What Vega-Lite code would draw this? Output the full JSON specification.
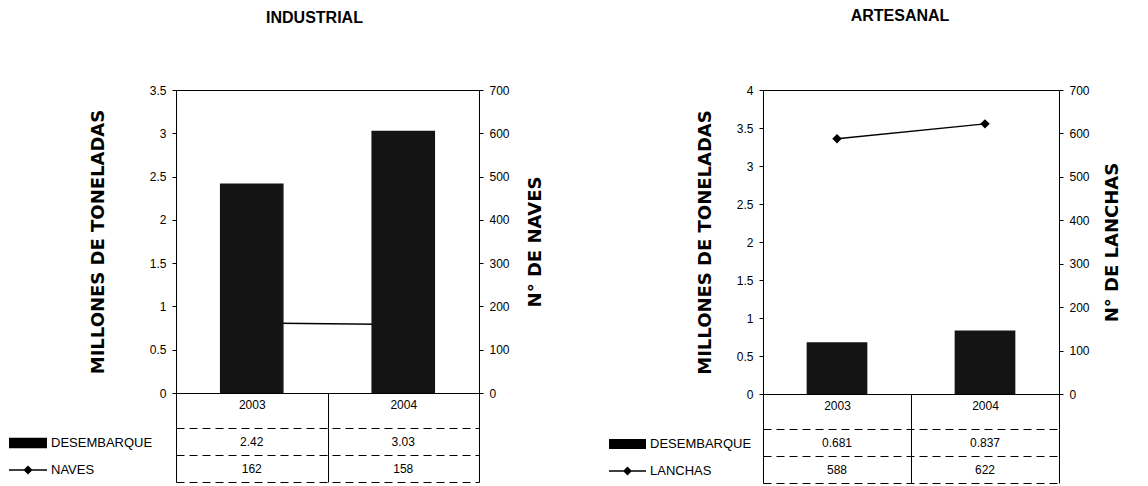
{
  "$schema": "https://vega.github.io/schema/vega-lite/v6.json",
  "background": "white",
  "padding": {"left": 1, "top": 7, "right": 5, "bottom": 2},
  "spacing": 56,
  "datasets": {
    "ind": [
      {"year": "2003", "DESEMBARQUE": 2.42, "NAVES": 162},
      {"year": "2004", "DESEMBARQUE": 3.03, "NAVES": 158}
    ],
    "art": [
      {"year": "2003", "DESEMBARQUE": 0.681, "LANCHAS": 588},
      {"year": "2004", "DESEMBARQUE": 0.837, "LANCHAS": 622}
    ]
  },
  "hconcat": [
    {
      "bounds": "flush",
      "spacing": 35,
      "resolve": {"scale": {"shape": "independent"}, "legend": {"shape": "independent"}},
      "vconcat": [
        {
          "width": 303,
          "height": 303,
          "title": {"text": "INDUSTRIAL", "offset": 58, "dx": -13},
          "data": {"name": "ind"},
          "encoding": {
            "x": {"field": "year", "type": "ordinal", "scale": {"paddingInner": 0, "paddingOuter": 0},
                  "axis": {"title": null, "orient": "bottom", "tickBand": "extent", "tickSize": 35, "labelPadding": -29, "labelAngle": 0}}
          },
          "layer": [
            {
              "mark": {"type": "line", "color": "black", "strokeWidth": 1.5, "point": {"shape": "diamond", "filled": true, "color": "black", "size": 90}},
              "encoding": {
                "y": {"field": "NAVES", "type": "quantitative", "scale": {"domain": [0, 700], "nice": false},
                      "axis": {"orient": "right", "title": "N° DE NAVES", "values": [0, 100, 200, 300, 400, 500, 600, 700], "tickSize": 4, "labelPadding": 6, "titlePadding": 35, "titleAngle": 270}}
              }
            },
            {
              "mark": {"type": "bar", "color": "#141414", "width": {"band": 0.42}},
              "encoding": {
                "y": {"field": "DESEMBARQUE", "type": "quantitative", "scale": {"domain": [0, 3.5], "nice": false},
                      "axis": {"orient": "left", "title": "MILLONES DE TONELADAS", "values": [0, 0.5, 1, 1.5, 2, 2.5, 3, 3.5], "format": "~g", "tickSize": 4, "labelPadding": 6, "titlePadding": 42}}
              }
            }
          ],
          "resolve": {"scale": {"y": "independent"}}
        },
        {
          "width": 303,
          "height": 54,
          "view": {"stroke": null},
          "data": {"name": "ind"},
          "transform": [{"fold": ["DESEMBARQUE", "NAVES"], "as": ["serie", "valor"]}],
          "encoding": {
            "x": {"field": "year", "type": "ordinal", "scale": {"paddingInner": 0, "paddingOuter": 0},
                  "axis": {"title": null, "orient": "top", "labels": false, "ticks": false, "domain": false, "grid": true, "tickBand": "extent", "gridColor": "black", "gridWidth": 1}},
            "y": {"field": "serie", "type": "nominal", "sort": ["DESEMBARQUE", "NAVES"],
                  "axis": {"title": null, "labels": false, "ticks": false, "domain": false, "grid": true, "tickBand": "extent", "gridColor": "black", "gridDash": [8, 5], "gridWidth": 1}}
          },
          "layer": [
            {
              "mark": {"type": "text", "font": "Liberation Sans", "fontSize": 12, "color": "black"},
              "encoding": {"text": {"field": "valor", "type": "nominal"}}
            },
            {
              "mark": {"type": "point", "opacity": 0, "filled": true, "color": "black", "fill": "black", "stroke": "black", "strokeWidth": 1.5},
              "encoding": {
                "shape": {"field": "serie", "type": "nominal",
                          "scale": {"domain": ["DESEMBARQUE", "NAVES"], "range": ["M-1,-0.27H1V0.27H-1Z", "M-1,-0.04H1V0.04H-1ZM0,-0.24L0.24,0L0,0.24L-0.24,0Z"]},
                          "legend": {"title": null, "orient": "left", "offset": 16, "padding": 7, "symbolSize": 1444, "symbolStrokeWidth": 1.5, "symbolFillColor": "black", "symbolStrokeColor": "black", "symbolOpacity": 1, "labelFont": "Liberation Sans", "labelFontSize": 13, "labelColor": "black", "labelOffset": 3, "clipHeight": 16, "rowPadding": 11,
                                     "encode": {"symbols": {"update": {"fill": {"value": "black"}, "stroke": {"value": "black"}, "strokeWidth": {"value": 1.5}, "opacity": {"value": 1}, "fillOpacity": {"value": 1}, "strokeOpacity": {"value": 1}}}}}}
              }
            }
          ]
        }
      ]
    },
    {
      "bounds": "flush",
      "spacing": 35,
      "resolve": {"scale": {"shape": "independent"}, "legend": {"shape": "independent"}},
      "vconcat": [
        {
          "width": 296,
          "height": 304,
          "title": {"text": "ARTESANAL", "offset": 60, "dx": -11},
          "data": {"name": "art"},
          "encoding": {
            "x": {"field": "year", "type": "ordinal", "scale": {"paddingInner": 0, "paddingOuter": 0},
                  "axis": {"title": null, "orient": "bottom", "tickBand": "extent", "tickSize": 35, "labelPadding": -29, "labelAngle": 0}}
          },
          "layer": [
            {
              "mark": {"type": "bar", "color": "#141414", "width": {"band": 0.41}},
              "encoding": {
                "y": {"field": "DESEMBARQUE", "type": "quantitative", "scale": {"domain": [0, 4], "nice": false},
                      "axis": {"orient": "left", "title": "MILLONES DE TONELADAS", "values": [0, 0.5, 1, 1.5, 2, 2.5, 3, 3.5, 4], "format": "~g", "tickSize": 4, "labelPadding": 6, "titlePadding": 22}}
              }
            },
            {
              "mark": {"type": "line", "color": "black", "strokeWidth": 1.5, "point": {"shape": "diamond", "filled": true, "color": "black", "size": 90}},
              "encoding": {
                "y": {"field": "LANCHAS", "type": "quantitative", "scale": {"domain": [0, 700], "nice": false},
                      "axis": {"orient": "right", "title": "N° DE LANCHAS", "values": [0, 100, 200, 300, 400, 500, 600, 700], "tickSize": 4, "labelPadding": 6, "titlePadding": 32, "titleAngle": 270}}
              }
            }
          ],
          "resolve": {"scale": {"y": "independent"}}
        },
        {
          "width": 296,
          "height": 54,
          "view": {"stroke": null},
          "data": {"name": "art"},
          "transform": [{"fold": ["DESEMBARQUE", "LANCHAS"], "as": ["serie", "valor"]}],
          "encoding": {
            "x": {"field": "year", "type": "ordinal", "scale": {"paddingInner": 0, "paddingOuter": 0},
                  "axis": {"title": null, "orient": "top", "labels": false, "ticks": false, "domain": false, "grid": true, "tickBand": "extent", "gridColor": "black", "gridWidth": 1}},
            "y": {"field": "serie", "type": "nominal", "sort": ["DESEMBARQUE", "LANCHAS"],
                  "axis": {"title": null, "labels": false, "ticks": false, "domain": false, "grid": true, "tickBand": "extent", "gridColor": "black", "gridDash": [8, 5], "gridWidth": 1}}
          },
          "layer": [
            {
              "mark": {"type": "text", "font": "Liberation Sans", "fontSize": 12, "color": "black"},
              "encoding": {"text": {"field": "valor", "type": "nominal"}}
            },
            {
              "mark": {"type": "point", "opacity": 0, "filled": true, "color": "black", "fill": "black", "stroke": "black", "strokeWidth": 1.5},
              "encoding": {
                "shape": {"field": "serie", "type": "nominal",
                          "scale": {"domain": ["DESEMBARQUE", "LANCHAS"], "range": ["M-1,-0.27H1V0.27H-1Z", "M-1,-0.04H1V0.04H-1ZM0,-0.24L0.24,0L0,0.24L-0.24,0Z"]},
                          "legend": {"title": null, "orient": "left", "offset": 4, "padding": 7, "symbolSize": 1369, "symbolStrokeWidth": 1.5, "symbolFillColor": "black", "symbolStrokeColor": "black", "symbolOpacity": 1, "labelFont": "Liberation Sans", "labelFontSize": 13, "labelColor": "black", "labelOffset": 3, "clipHeight": 16, "rowPadding": 11,
                                     "encode": {"symbols": {"update": {"fill": {"value": "black"}, "stroke": {"value": "black"}, "strokeWidth": {"value": 1.5}, "opacity": {"value": 1}, "fillOpacity": {"value": 1}, "strokeOpacity": {"value": 1}}}}}}
              }
            }
          ]
        }
      ]
    }
  ],
  "resolve": {"scale": {"shape": "independent"}, "legend": {"shape": "independent"}},
  "config": {
    "view": {"stroke": "black", "strokeWidth": 1},
    "axis": {"domainColor": "black", "tickColor": "black", "labelColor": "black", "titleColor": "black", "labelFont": "Liberation Sans", "labelFontSize": 12, "titleFont": "DejaVu Sans", "titleFontWeight": "bold", "titleFontSize": 18, "grid": false},
    "title": {"font": "Liberation Sans", "fontSize": 16, "fontWeight": "bold", "color": "black", "anchor": "middle"}
  }
}
